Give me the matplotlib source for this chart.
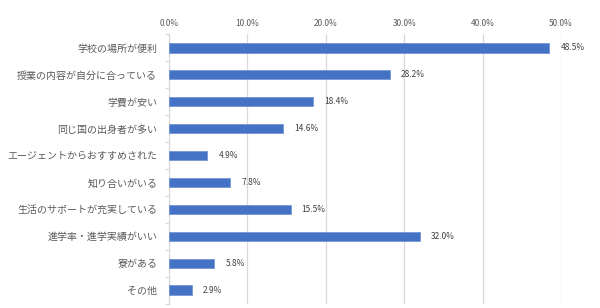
import numpy as np
import matplotlib.pyplot as plt
import matplotlib as mpl

categories = ['学校の場所が便利', '授業の内容が自分に合っている', '学費が安い',
              '同じ国の出身者が多い', 'エージェントからおすすめされた', '知り合いがいる',
              '生活のサポートが充実している', '進学率・進学実績がいい', '寮がある', 'その他']
values = [48.5, 28.2, 18.4, 14.6, 4.9, 7.8, 15.5, 32.0, 5.8, 2.9]
xticks = [0, 10, 20, 30, 40, 50]

mpl.rcParams['font.family'] = ['Noto Sans CJK JP', 'DejaVu Sans']

BAR = '#4472C4'
GRID = '#D9D9D9'
TXT = '#595959'

fig = plt.figure(figsize=(6.0, 3.08), dpi=100)
ax = fig.add_axes([0.2817, 0.0146, 0.6533, 0.8734])

y = np.arange(len(categories))
ax.barh(y, values, height=0.34, color=BAR, edgecolor='#6A8FD6', linewidth=0.5, zorder=3)

for yi, v in zip(y, values):
    ax.annotate(f'{v:.1f}%', xy=(v, yi), xytext=(8, 0), textcoords='offset points',
                va='center', ha='left', fontsize=6, color='#404040')

ax.set_xlim(0, 50)
ax.set_ylim(len(categories) - 0.5, -0.5)
ax.set_xticks(xticks)
ax.set_xticklabels([f'{t:.1f}%' for t in xticks], fontsize=6, color=TXT)
ax.xaxis.tick_top()
ax.tick_params(axis='x', length=0, pad=5)
ax.grid(axis='x', color=GRID, lw=0.9, zorder=0)

ax.set_yticks(y)
ax.set_yticklabels(categories, fontsize=7.2, color=TXT)
ax.set_yticks(np.arange(-0.5, len(categories), 1), minor=True)
ax.tick_params(axis='y', which='major', length=0, pad=8.5)
ax.tick_params(axis='y', which='minor', length=3, color=GRID, width=0.9)

for s in ['top', 'right', 'bottom']:
    ax.spines[s].set_visible(False)
ax.spines['left'].set_color(GRID)
ax.spines['left'].set_linewidth(0.9)

fig.savefig('out.png', dpi=100, facecolor='white')
